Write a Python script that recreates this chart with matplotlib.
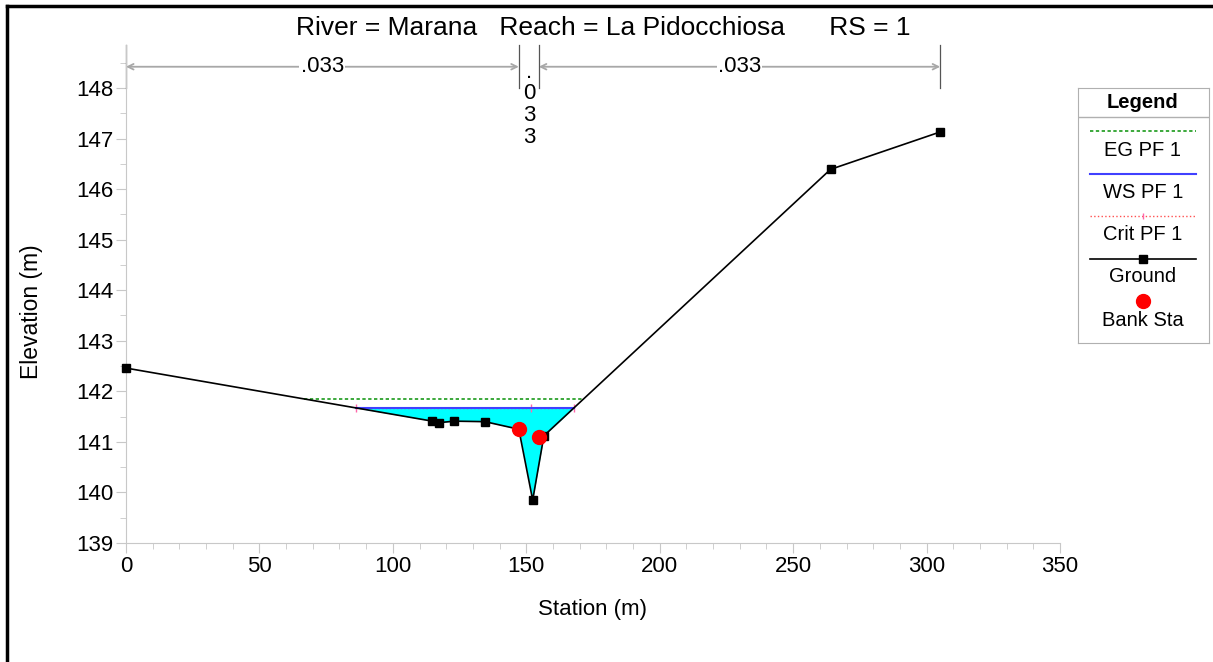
import numpy as np
import matplotlib
matplotlib.use("Agg")
import matplotlib.pyplot as plt
from matplotlib.lines import Line2D
from matplotlib.ticker import MultipleLocator

plt.rcParams['font.family'] = ['Liberation Sans', 'DejaVu Sans']

# ---- data ----
station = [0.0, 114.8, 117.3, 123.0, 134.5, 147.2, 152.4, 156.6, 264.0, 305.1]
elevation = [142.46, 141.41, 141.38, 141.41, 141.40, 141.25, 139.85, 141.12, 146.39, 147.13]
bank_sta = [147.2, 154.7]
bank_elev = [141.25, 141.10]
ws_elev = 141.67      # WS PF 1
crit_elev = 141.67    # Crit PF 1
eg_elev = 141.85      # EG PF 1
crit_mid_sta = 151.7
n_bounds = [0.0, 147.2, 154.7, 305.1]
n_values = [".033", ".033", ".033"]
title = "River = Marana   Reach = La Pidocchiosa      RS = 1"

W, H = 1213, 662
fig = plt.figure(figsize=(W / 100, H / 100), dpi=100)
ax = fig.add_axes([126 / W, 1 - 543 / H, (1060 - 126) / W, (543 - 45) / H])

st = np.array(station)
el = np.array(elevation)


def crossings(level):
    xs = []
    for i in range(len(st) - 1):
        y0, y1 = el[i] - level, el[i + 1] - level
        if y0 == 0:
            xs.append(st[i])
        elif y0 * y1 < 0:
            xs.append(st[i] + (st[i + 1] - st[i]) * y0 / (y0 - y1))
    return min(xs), max(xs)


ws_l, ws_r = crossings(ws_elev)
eg_l, eg_r = crossings(eg_elev)

# water fill
xs = np.union1d(np.linspace(ws_l, ws_r, 2000), st[(st > ws_l) & (st < ws_r)])
gs = np.interp(xs, st, el)
ax.fill_between(xs, gs, ws_elev, where=gs <= ws_elev, color="#00ffff", lw=0, zorder=1)

# EG, crit, WS
ax.plot([eg_l, eg_r], [eg_elev, eg_elev], color="#1a9a1a", ls=(0, (2, 1.5)), lw=1.2, zorder=3)
ax.plot([ws_l, ws_r], [crit_elev, crit_elev], color="#ff5050", ls=":", lw=1, zorder=2)
ax.plot([ws_l, crit_mid_sta, ws_r], [crit_elev] * 3, ls="none", marker="|", ms=6,
        color="#ff66aa", mew=1, zorder=2)
ax.plot([ws_l, ws_r], [ws_elev, ws_elev], color="#4040ff", lw=1.5, zorder=3)

# ground
ax.plot(st, el, color="black", lw=1.2, marker="s", ms=6, zorder=4, clip_on=False)
ax.plot(bank_sta, bank_elev, ls="none", marker="o", ms=10, color="#ff0000", zorder=5)

ax.set_xlim(0, 350)
ax.set_ylim(139, 148.85)
ax.set_xticks(np.arange(0, 351, 50))
ax.set_yticks(np.arange(139, 149, 1))
ax.xaxis.set_minor_locator(MultipleLocator(10))
ax.yaxis.set_minor_locator(MultipleLocator(0.5))
for s in ["top", "right"]:
    ax.spines[s].set_visible(False)
for s in ["left", "bottom"]:
    ax.spines[s].set_color("#c8c8c8")
ax.tick_params(which="major", length=7, color="#c8c8c8", labelsize=16, pad=2)
ax.tick_params(which="minor", length=4, color="#c8c8c8")
ax.set_xlabel("Station (m)", fontsize=16, labelpad=16)
ax.set_ylabel("Elevation (m)", fontsize=16.5)
ax.yaxis.set_label_coords((43 - 126) / 934, 1 - (312 - 45) / 498)

# Manning's n brackets
gray = "#a8a8a8"
for b in n_bounds:
    ax.plot([b, b], [148.0, 148.85], color="#555555", lw=0.9, clip_on=False, zorder=2)
arrow_y = 148.42
for i, val in enumerate(n_values):
    a, b = n_bounds[i], n_bounds[i + 1]
    mid = (a + b) / 2
    if b - a > 30:
        ax.annotate("", xy=(a, arrow_y), xytext=(b, arrow_y),
                    arrowprops=dict(arrowstyle="<->", color=gray, lw=1.3,
                                    shrinkA=0, shrinkB=0), annotation_clip=False)
        ax.text(mid, arrow_y, val, ha="center", va="center", fontsize=16,
                bbox=dict(facecolor="white", edgecolor="none", pad=1), zorder=3)
    else:
        ax.text(mid, 148.52, "\n".join(val), ha="center", va="top", fontsize=16,
                linespacing=1.05, zorder=3)

fig.text(603 / W, 1 - 28 / H, title, ha="center", va="center", fontsize=19)

# legend drawn as a panel
lg = fig.add_axes([1078 / W, 1 - 343 / H, 131 / W, 255 / H])
lg.set_xlim(1078, 1209)
lg.set_ylim(343, 88)
lg.set_xticks([])
lg.set_yticks([])
for s in lg.spines.values():
    s.set_color("#b0b0b0")
cx = 1143
lg.plot([1078, 1209], [117, 117], color="#b0b0b0", lw=1)
lg.text(cx, 102, "Legend", ha="center", va="center", fontsize=14.5, fontweight="bold")
lg.plot([1090, 1196], [131, 131], color="#1a9a1a", ls=(0, (2, 1.5)), lw=1.2)
lg.text(cx, 150, "EG PF 1", ha="center", va="center", fontsize=14.5)
lg.plot([1090, 1196], [174, 174], color="#4040ff", lw=1.5)
lg.text(cx, 192, "WS PF 1", ha="center", va="center", fontsize=14.5)
lg.plot([1090, 1196], [216, 216], color="#ff5050", ls=":", lw=1)
lg.plot([cx], [216], marker="|", ms=5, color="#ff66aa", mew=1)
lg.text(cx, 235, "Crit PF 1", ha="center", va="center", fontsize=14.5)
lg.plot([1090, 1196], [259, 259], color="black", lw=1.2, marker=None)
lg.plot([cx], [259], marker="s", ms=6, color="black")
lg.text(cx, 277, "Ground", ha="center", va="center", fontsize=14.5)
lg.plot([cx], [301], marker="o", ms=10, color="#ff0000")
lg.text(cx, 320, "Bank Sta", ha="center", va="center", fontsize=14.5)

# figure frame
fig.add_artist(Line2D([6.5 / W, 6.5 / W], [0, 1 - 5.5 / H], color="black", lw=2.5))
fig.add_artist(Line2D([6.5 / W, 1], [1 - 5.5 / H, 1 - 5.5 / H], color="black", lw=2.5))

fig.savefig("out.png", dpi=100)
